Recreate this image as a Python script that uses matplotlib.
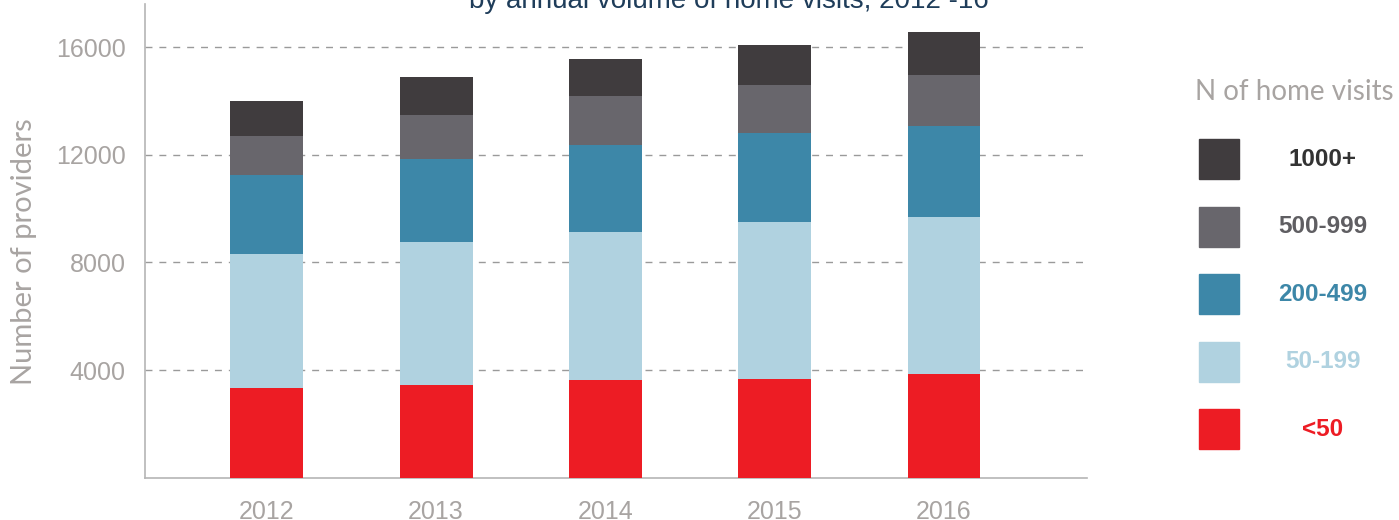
import matplotlib.pyplot as plt
import numpy as np

years = ['2012', '2013', '2014', '2015', '2016']
cats = ['<50', '50-199', '200-499', '500-999', '1000+']
under50 = [3320, 3450, 3630, 3660, 3840]
v50_199 = [5000, 5310, 5490, 5830, 5840]
v200_499 = [2920, 3090, 3240, 3300, 3390]
v500_999 = [1460, 1640, 1830, 1800, 1910]
v1000 = [1310, 1380, 1360, 1480, 1580]
series = [under50, v50_199, v200_499, v500_999, v1000]

colors = ['#ed1c24', '#b0d2e0', '#3d87a8', '#68666c', '#403c3e']
text_colors = ['#ed1c24', '#b0d2e0', '#3d87a8', '#5f5e62', '#333333']
grey = '#a8a4a2'
sans = ['Liberation Sans', 'DejaVu Sans']
soft = ['Lato', 'DejaVu Sans']

fig = plt.figure(figsize=(13.99, 5.2), dpi=100)
ax = fig.add_axes([0.1036, 0.0813, 0.777 - 0.1036, 0.911])

x = np.arange(len(years))
bottom = np.zeros(len(years))
for vals, c in zip(series, colors):
    ax.bar(x, vals, width=0.43, bottom=bottom, color=c, zorder=3)
    bottom += np.array(vals)

ax.set_xlim(-0.72, 4.845)
ax.set_ylim(0, 17600)
ax.set_yticks([4000, 8000, 12000, 16000])
ax.set_xticks(x)
ax.set_xticklabels(years)
for lab in ax.get_xticklabels() + ax.get_yticklabels():
    lab.set_family(sans)
    lab.set_fontsize(18)
    lab.set_color(grey)
ax.tick_params(axis='both', length=0)
ax.tick_params(axis='x', pad=16)
ax.tick_params(axis='y', pad=14)
ax.grid(axis='y', color='#9a9a9a', linestyle=(0, (5, 5)), linewidth=1, zorder=0)
for s in ['top', 'right']:
    ax.spines[s].set_visible(False)
for s in ['left', 'bottom']:
    ax.spines[s].set_color('#b5b5b5')
    ax.spines[s].set_linewidth(1.2)

fig.text(24 / 1399, 1 - 252 / 520, 'Number of providers', rotation=90, ha='center', va='center',
         fontsize=21, color=grey, family=soft)

fig.text(729 / 1399, 1 - 8 / 520, 'by annual volume of home visits, 2012 -16', ha='center', va='baseline',
         fontsize=20, color='#1f3d5a', family=sans)

# legend
fig.text(1195 / 1399, 1 - 92 / 520, 'N of home visits', ha='left', va='center', fontsize=20,
         color=grey, family=soft)
ys = [429, 361.7, 294.3, 226.7, 159.3]
for cat, c, tc, yc in zip(cats, colors, text_colors, ys):
    fig.patches.append(plt.Rectangle((1199 / 1399, 1 - (yc + 20) / 520), 40 / 1399, 40 / 520,
                                     transform=fig.transFigure, color=c))
    fig.text(1323 / 1399, 1 - yc / 520, cat, ha='center', va='center', fontsize=17.5,
             fontweight='bold', color=tc, family=sans)

fig.savefig('out.png', dpi=100)
